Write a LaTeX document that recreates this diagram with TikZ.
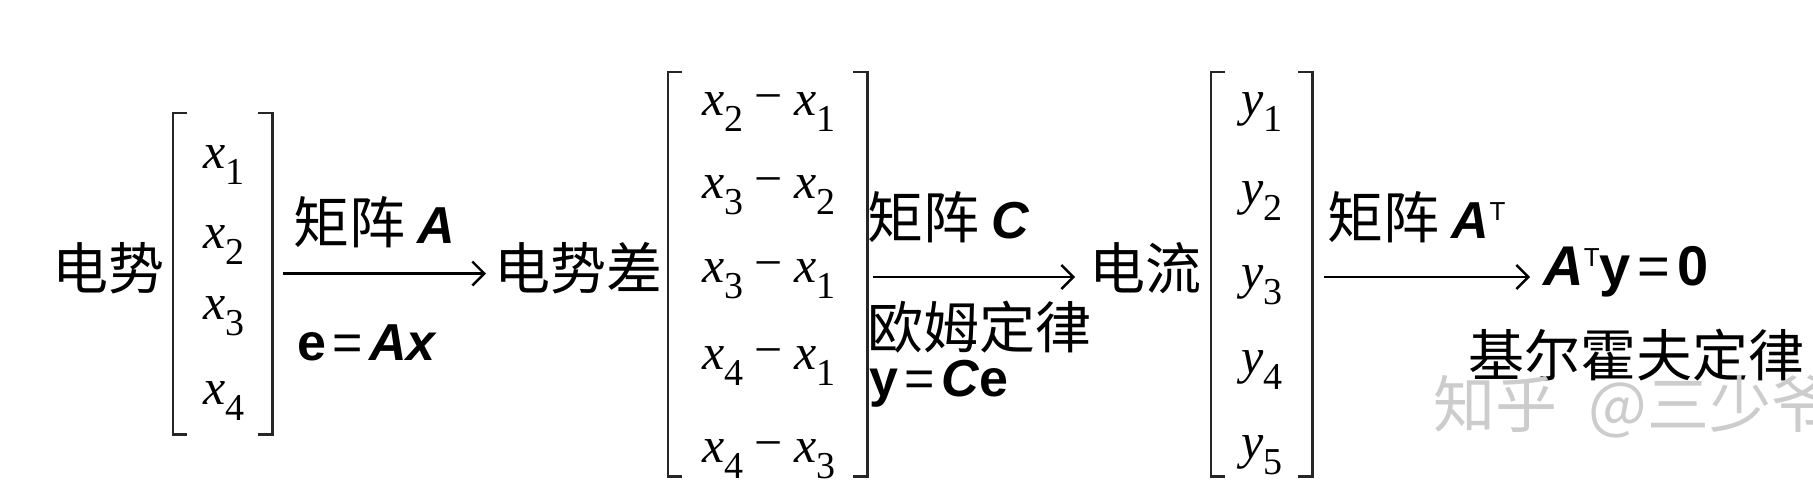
\documentclass[tikz,border=0pt]{standalone}
\usepackage{fontspec}
\usetikzlibrary{arrows.meta}
\newfontfamily\cjk{Noto Sans CJK SC}
\newfontfamily\tms{Liberation Serif}
\newfontfamily\ars{Liberation Sans}
\newcommand\vsub[2]{{\itshape #1}\raisebox{-0.33em}{\fontsize{19}{19}\selectfont #2}}
\newcommand\mns{\hspace{0.22em}\raisebox{0.05em}{−}\hspace{0.22em}}
\newcommand\bA{{\bfseries\itshape A}}
\newcommand\supT{\raisebox{0.34em}{\fontsize{13}{13}\selectfont T}}
\newcommand\eqsp{\hspace{0.12em}=\hspace{0.12em}}
\begin{document}
\begin{tikzpicture}[x=0.5pt,y=-0.5pt,
  cn/.style={font=\cjk\fontsize{28}{28}\selectfont, inner sep=0pt, anchor=west},
  lab/.style={font=\cjk\fontsize{28}{28}\selectfont, inner sep=0pt, anchor=west},
  frm/.style={font=\ars\fontsize{26}{26}\selectfont, inner sep=0pt, anchor=west},
  ent/.style={font=\tms\fontsize{25}{25}\selectfont, inner sep=0pt},
  vec/.style={draw=none, inner sep=0pt},
  brk/.style={line width=1.1pt, draw=black!85},
  arr/.style={line width=1.2pt, -{Straight Barb[length=6pt,width=12pt,line width=1.2pt]}},
  wm/.style={font=\cjk\fontsize{31}{31}\selectfont, inner sep=0pt, anchor=west, text=black!20}]
\useasboundingbox (0,0) rectangle (1813,500);

% vectors
\node[vec, minimum width=49.5pt, minimum height=160.5pt] (m1) at (222.5,273.5) {};
\node[vec, minimum width=99.5pt, minimum height=202pt] (m2) at (767.5,274) {};
\node[vec, minimum width=50.5pt, minimum height=202pt] (m3) at (1261.5,274) {};
\foreach \m in {m1,m2,m3}{
  \draw[brk] ([xshift=7pt]\m.north west) -- (\m.north west) -- (\m.south west) -- ([xshift=7pt]\m.south west);
  \draw[brk] ([xshift=-7pt]\m.north east) -- (\m.north east) -- (\m.south east) -- ([xshift=-7pt]\m.south east);
}

% entries
\node[ent] (a1) at (224,165) {\vsub{x}{1}};
\node[ent] (a2) at (224,245) {\vsub{x}{2}};
\node[ent] (a3) at (224,316) {\vsub{x}{3}};
\node[ent] (a4) at (224,401) {\vsub{x}{4}};

\node[ent] (b1) at (769,112) {\vsub{x}{2}\mns\vsub{x}{1}};
\node[ent] (b2) at (769,195) {\vsub{x}{3}\mns\vsub{x}{2}};
\node[ent] (b3) at (769,279) {\vsub{x}{3}\mns\vsub{x}{1}};
\node[ent] (b4) at (769,366) {\vsub{x}{4}\mns\vsub{x}{1}};
\node[ent] (b5) at (769,459) {\vsub{x}{4}\mns\vsub{x}{3}};

\node[ent] (c1) at (1262,112) {\vsub{y}{1}};
\node[ent] (c2) at (1262,201) {\vsub{y}{2}};
\node[ent] (c3) at (1262,285) {\vsub{y}{3}};
\node[ent] (c4) at (1262,370) {\vsub{y}{4}};
\node[ent] (c5) at (1262,455) {\vsub{y}{5}};

% texts
\node[cn] (t1) at (52,268) {电势};
\node[cn] (t2) at (494,268) {电势差};
\node[cn] (t3) at (1089,268) {电流};
\node[frm, font=\ars\fontsize{28}{28}\selectfont] (t4) at (1543,272) {\bA\supT\textbf{y}\eqsp\textbf{0}};

% labels
\node[lab] (l1) at (293,222) {矩阵 {\ars\fontsize{26}{26}\selectfont\bA}};
\node[frm] (l2) at (297,343) {\textbf{e}\eqsp\bA{\bfseries\itshape x}};
\node[lab] (l3) at (867,217) {矩阵 {\ars\fontsize{26}{26}\selectfont\bfseries\itshape C}};
\node[cn] (l4) at (867,327) {欧姆定律};
\node[frm] (l5) at (869,384) {\textbf{y}\eqsp\textbf{\itshape C}\textbf{e}};
\node[lab] (l6) at (1327,217) {矩阵 {\ars\fontsize{26}{26}\selectfont\bA\supT}};
\node[cn] (l7) at (1468,355) {基尔霍夫定律};
\node[wm] (w) at (1433,407) {知乎\hspace{0.5em}@三少爷};

% arrows
\draw[arr] ([xshift=5.5pt]m1.east) -- ([xshift=-4pt]t2.west |- m1.east);
\draw[arr] ([xshift=3pt,yshift=-1.5pt]m2.east) -- ([xshift=-7pt,yshift=-1.5pt]t3.west |- m2.east);
\draw[arr] ([xshift=6pt,yshift=-1.5pt]m3.east) -- ([xshift=-6.5pt,yshift=-1.5pt]t4.west |- m3.east);
\end{tikzpicture}
\end{document}
